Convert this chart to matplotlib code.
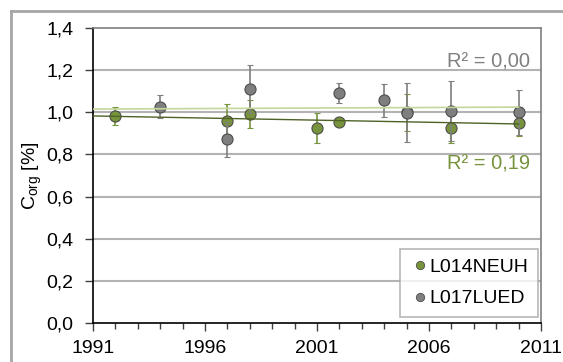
import numpy as np
import matplotlib
import matplotlib.pyplot as plt
from matplotlib.lines import Line2D
from matplotlib.ticker import FixedLocator, MultipleLocator, FuncFormatter

matplotlib.use('Agg')
plt.rcParams['font.family'] = ['Liberation Sans', 'DejaVu Sans']

# L014NEUH (green)
years_a = [1992, 1997, 1998, 2001, 2002, 2005, 2007, 2010]
corg_a = [0.984, 0.960, 0.993, 0.927, 0.955, 0.999, 0.927, 0.948]
err_a = [0.042, 0.077, 0.066, 0.071, 0.010, 0.087, 0.074, 0.060]

# L017LUED (grey)
years_b = [1994, 1997, 1998, 2002, 2004, 2005, 2007, 2010]
corg_b = [1.027, 0.873, 1.111, 1.092, 1.057, 0.998, 1.008, 1.000]
err_b = [0.055, 0.083, 0.113, 0.049, 0.077, 0.140, 0.142, 0.108]

labels = ['L014NEUH', 'L017LUED']
r2_labels = ['R² = 0,19', 'R² = 0,00']
year_ticks = [1991, 1996, 2001, 2006, 2011]

green = '#77933c'
grey = '#7f7f7f'

fig = plt.figure(figsize=(5.63, 3.62), dpi=100)
ax = fig.add_axes([93 / 563, 39 / 362, 448 / 563, 295 / 362])

# outer chart frame (only left and top edge are inside the picture)
fx, fy = 10.5 / 563, 1 - 11 / 362
fig.add_artist(Line2D([fx, fx], [0, fy], transform=fig.transFigure, color='#a6a6a6', lw=2))
fig.add_artist(Line2D([fx, 1], [fy, fy], transform=fig.transFigure, color='#a6a6a6', lw=2))

for yy in np.arange(0.2, 1.3, 0.2):
    ax.axhline(yy, color='#b3b3b3', lw=1.5, zorder=0)

ax.errorbar(years_a, corg_a, yerr=err_a, fmt='o', color=green, ecolor=green,
            elinewidth=1.2, capsize=2, capthick=1.2, markersize=8,
            markeredgecolor='#4d4d4d', markeredgewidth=0.8, zorder=3)
ax.errorbar(years_b, corg_b, yerr=err_b, fmt='o', color=grey, ecolor=grey,
            elinewidth=1.2, capsize=2, capthick=1.2, markersize=8,
            markeredgecolor='#4d4d4d', markeredgewidth=0.8, zorder=4)

# linear trend lines
xt = np.array([1991, 2010])
ka, da = np.polyfit(years_a, corg_a, 1)
kb, db = np.polyfit(years_b, corg_b, 1)
ax.plot(xt, kb * xt + db, color='#c3d69b', lw=1.2, zorder=5)
ax.plot(xt, ka * xt + da, color='#4f6228', lw=1.0, zorder=5)

ax.text(2010.5, 1.24, r2_labels[1], color='#808080', fontsize=14.5,
        ha='right', va='center')
ax.text(2010.5, 0.755, r2_labels[0], color=green, fontsize=14.5,
        ha='right', va='center')

ax.set_xlim(1991, 2011)
ax.set_ylim(0, 1.4)
ax.xaxis.set_major_locator(FixedLocator(year_ticks))
ax.xaxis.set_minor_locator(MultipleLocator(1))
ax.yaxis.set_major_locator(MultipleLocator(0.2))
ax.yaxis.set_major_formatter(FuncFormatter(lambda v, p: f'{v:.1f}'.replace('.', ',')))
ax.xaxis.set_major_formatter(FuncFormatter(lambda v, p: f'{int(round(v))}'))
ax.tick_params(axis='both', which='major', labelsize=14, direction='out',
               length=6, width=1, color='#404040')
ax.tick_params(axis='x', which='minor', direction='out', length=4, width=1, color='#404040')
ax.tick_params(axis='x', which='major', pad=6.5)
ax.tick_params(axis='y', which='major', pad=8)

ax.spines['left'].set_color('black')
ax.spines['bottom'].set_color('black')
ax.spines['top'].set_color('#808080')
ax.spines['right'].set_color('#808080')
for s in ax.spines.values():
    s.set_linewidth(1.2)

ax.set_ylabel(r'C$_{\mathregular{org}}$ [%]', fontsize=14, labelpad=2)

handles = [Line2D([], [], ls='none', marker='o', markersize=6, color=c,
                  markeredgecolor='#4d4d4d', markeredgewidth=0.6)
           for c in (green, grey)]
leg = ax.legend(handles, labels, loc='lower right', bbox_to_anchor=(0.993, 0.02),
                fontsize=14, frameon=True, fancybox=False, edgecolor='#a6a6a6',
                handletextpad=0.0, handlelength=1.0, borderpad=0.5,
                labelspacing=0.7, borderaxespad=0)
leg.get_frame().set_linewidth(1.2)

fig.savefig('out.png', dpi=100)
